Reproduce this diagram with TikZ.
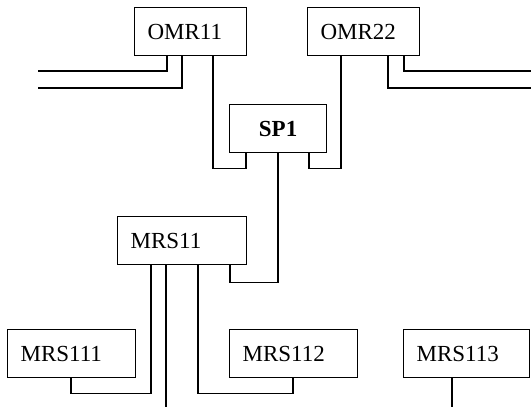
\documentclass[tikz,border=0pt]{standalone}
\usepackage{fontspec}
\setmainfont{Liberation Serif}

\begin{document}
\begin{tikzpicture}[x=1pt,y=-1pt, line width=1.2pt,
 every node/.style={font=\fontsize{23}{27}\selectfont},
 box/.style={draw,anchor=north west,minimum height=48pt,inner xsep=13pt,align=left}]
\useasboundingbox (0,0) rectangle (531,407);
\node[box,text width=86pt] (omr11) at (134,7) {OMR11};
\node[box,text width=86pt] (omr22) at (307,7) {OMR22};
\node[box,text width=71pt,align=center,font=\fontsize{23}{27}\selectfont\bfseries] (sp1) at (229,104) {SP1};
\node[box,text width=103pt] (mrs11) at (117,216) {MRS11};
\node[box,text width=102pt] (mrs111) at (7,329) {MRS111};
\node[box,text width=102pt] (mrs112) at (229,329) {MRS112};
\node[box,text width=100pt] (mrs113) at (403,329) {MRS113};
% free line ends
\coordinate (wa) at (38,71);
\coordinate (wb) at (38,88);
\coordinate (ea) at (531,71);
\coordinate (eb) at (531,88);
\coordinate (da) at (166,407);
\coordinate (db) at (452,407);
\draw ([xshift=33pt]omr11.south west) |- (wa);
\draw ([xshift=48pt]omr11.south west) |- (wb);
\draw ([xshift=97pt]omr22.south west) |- (ea);
\draw ([xshift=81pt]omr22.south west) |- (eb);
\draw ([xshift=79pt]omr11.south west) -- ++(0,112) -| ([xshift=17pt]sp1.south west);
\draw ([xshift=34pt]omr22.south west) -- ++(0,112) -| ([xshift=80pt]sp1.south west);
\draw ([xshift=49pt]sp1.south west) -- ++(0,129) -| ([xshift=113pt]mrs11.south west);
\draw ([xshift=34pt]mrs11.south west) -- ++(0,128) -| ([xshift=64pt]mrs111.south west);
\draw ([xshift=81pt]mrs11.south west) -- ++(0,128) -| ([xshift=64pt]mrs112.south west);
\draw ([xshift=49pt]mrs11.south west) -- (da);
\draw ([xshift=49pt]mrs113.south west) -- (db);
\end{tikzpicture}
\end{document}
